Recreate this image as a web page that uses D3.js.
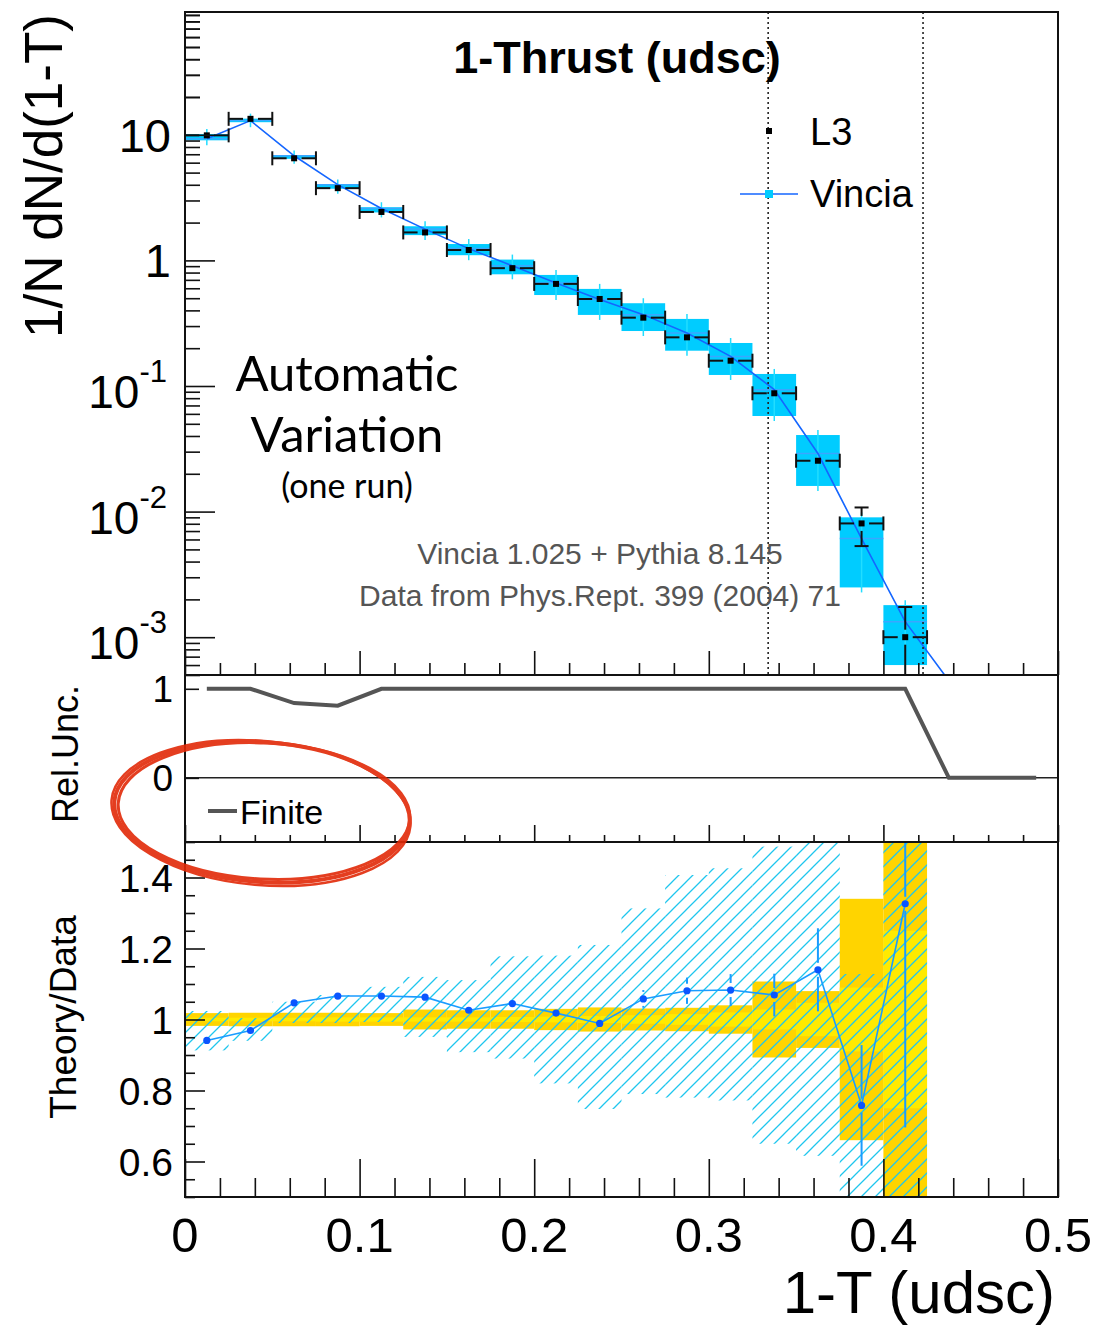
<!DOCTYPE html>
<html>
<head>
<meta charset="utf-8">
<script src="https://cdn.jsdelivr.net/npm/d3@7"></script>
<style>
  body { margin: 0; background: #fff; }
  text { font-family: "Liberation Sans", Arial, sans-serif; }
</style>
</head>
<body>
<script>
// bin edges in 1-T
var binEdges = [0, 0.025, 0.05, 0.075, 0.1, 0.125, 0.15, 0.175, 0.2, 0.225, 0.25,
                0.275, 0.3, 0.325, 0.35, 0.375, 0.4, 0.425, 0.45, 0.475, 0.5];

// L3 data (first 17 bins) and relative errors
var l3 = [9.9, 13.4, 6.5, 3.76, 2.43, 1.67, 1.21, 0.867, 0.65, 0.493, 0.35, 0.244,
          0.159, 0.0875, 0.0254, 0.00805, 0.0010];
var l3TotErr = [0.018, 0.019, 0.019, 0.019, 0.018, 0.028, 0.026, 0.026, 0.03, 0.034,
                0.031, 0.033, 0.04, 0.107, 0.08, 0.34, 0.74];
var l3StatErr = [0.005, 0.005, 0.005, 0.006, 0.006, 0.006, 0.006, 0.007, 0.008, 0.01,
                 0.012, 0.015, 0.02, 0.028, 0.047, 0.09, 0.25];

// Vincia central values (18 bins) and variation band (17 bins)
var vincia = [9.32, 12.98, 6.81, 4.01, 2.59, 1.775, 1.241, 0.906, 0.662, 0.488, 0.370,
              0.264, 0.172, 0.0935, 0.0290, 0.0061, 0.00133, 0.00045];
var vinciaLo = [9.04, 12.6, 6.44, 3.72, 2.41, 1.59, 1.10, 0.775, 0.53, 0.368, 0.274,
                0.191, 0.1224, 0.0577, 0.016, 0.00249, 0.0006];
var vinciaHi = [10.14, 13.45, 6.83, 4.02, 2.65, 1.87, 1.35, 1.015, 0.766, 0.593, 0.456,
                0.342, 0.220, 0.1247, 0.0407, 0.0090, 0.0018];

// Theory/Data ratio
var ratio = [0.941, 0.969, 1.047, 1.066, 1.066, 1.063, 1.026, 1.045, 1.018, 0.989, 1.058,
             1.081, 1.083, 1.069, 1.140, 0.758, 1.326];
var ratioErr = [0.005, 0.005, 0.007, 0.009, 0.01, 0.012, 0.014, 0.016, 0.018, 0.02, 0.025,
                0.037, 0.045, 0.06, 0.117, 0.17, 0.63];
var ratioLo = [0.913, 0.94, 0.99, 0.99, 0.993, 0.951, 0.908, 0.89, 0.82, 0.748, 0.79,
               0.78, 0.772, 0.65, 0.616, 0.4, 0.4];
var ratioHi = [1.024, 1.004, 1.05, 1.069, 1.092, 1.12, 1.111, 1.178, 1.18, 1.21, 1.313,
               1.407, 1.426, 1.487, 1.6, 1.128, 1.8];

// relative uncertainty (20 bins)
var relUnc = [1, 1, 0.84, 0.81, 1, 1, 1, 1, 1, 1, 1, 1, 1, 1, 1, 1, 1, 0, 0, 0];

var cutLines = [0.334, 0.4227];
var logLabels = [10, 1, 0.1, 0.01, 0.001];
var ratioLabels = [1.4, 1.2, 1, 0.8, 0.6];
var relLabels = [1, 0];
var xLabels = [0, 0.1, 0.2, 0.3, 0.4, 0.5];

var L = 185, R = 1058;
var svg = d3.select("body").append("svg")
    .attr("width", 1100).attr("height", 1326);

var x = d3.scaleLinear().domain([0, 0.5]).range([L, R]);
var yTop = d3.scaleLog().domain([5e-4, 95]).range([675, 12]);
var yMid = d3.scaleLinear().domain([-0.72, 1.155]).range([842, 675]);
var yBot = d3.scaleLinear().domain([0.5, 1.5]).range([1197, 842]);

var centers = binEdges.slice(0, -1).map(function(e, i) { return (e + binEdges[i + 1]) / 2; });
var nb = l3.length;

var defs = svg.append("defs");
defs.append("clipPath").attr("id", "clipTop").append("rect")
    .attr("x", L).attr("y", 12).attr("width", R - L).attr("height", 663);
defs.append("clipPath").attr("id", "clipBot").append("rect")
    .attr("x", L).attr("y", 842).attr("width", R - L).attr("height", 355);
var pat = defs.append("pattern").attr("id", "hatch")
    .attr("patternUnits", "userSpaceOnUse").attr("width", 14).attr("height", 14);
pat.append("path").attr("d", "M0,14 L14,0 M-2,2 L2,-2 M12,16 L16,12")
    .attr("stroke", "#1fc6ee").attr("stroke-width", 1.3);

// ---------------- top panel ----------------
var gTop = svg.append("g").attr("clip-path", "url(#clipTop)");

gTop.selectAll(".vbox").data(d3.range(nb)).enter().append("rect")
    .attr("x", function(i) { return x(binEdges[i]); })
    .attr("width", function(i) { return x(binEdges[i + 1]) - x(binEdges[i]); })
    .attr("y", function(i) { return yTop(vinciaHi[i]); })
    .attr("height", function(i) { return yTop(vinciaLo[i]) - yTop(vinciaHi[i]); })
    .attr("fill", "#00ccff");

gTop.selectAll(".vstat").data(d3.range(nb)).enter().append("line")
    .attr("x1", function(i) { return x(centers[i]); })
    .attr("x2", function(i) { return x(centers[i]); })
    .attr("y1", function(i) { return yTop(vinciaHi[i]) - 5; })
    .attr("y2", function(i) { return yTop(vinciaLo[i]) + 5; })
    .attr("stroke", "#22ddff").attr("stroke-width", 1.5);

gTop.selectAll(".vcen").data(d3.range(nb)).enter().append("line")
    .attr("x1", function(i) { return x(binEdges[i]); })
    .attr("x2", function(i) { return x(binEdges[i + 1]); })
    .attr("y1", function(i) { return yTop(vincia[i]); })
    .attr("y2", function(i) { return yTop(vincia[i]); })
    .attr("stroke", "#3aa6ff").attr("stroke-width", 1.5);

gTop.append("path")
    .datum(vincia)
    .attr("fill", "none").attr("stroke", "#1466ff").attr("stroke-width", 1.6)
    .attr("d", d3.line()
        .x(function(d, i) { return x(centers[i]); })
        .y(function(d) { return yTop(d); }));

// L3 error bars
var gap = 7.5;
var eb = gTop.append("g").attr("stroke", "#111").attr("stroke-width", 2);
l3.forEach(function(v, i) {
    var cx = x(centers[i]), cy = yTop(v);
    var x1 = x(binEdges[i]), x2 = x(binEdges[i + 1]);
    eb.append("line").attr("x1", x1).attr("x2", cx - gap).attr("y1", cy).attr("y2", cy);
    eb.append("line").attr("x1", cx + gap).attr("x2", x2).attr("y1", cy).attr("y2", cy);
    eb.append("line").attr("x1", x1).attr("x2", x1).attr("y1", cy - 7).attr("y2", cy + 7);
    eb.append("line").attr("x1", x2).attr("x2", x2).attr("y1", cy - 7).attr("y2", cy + 7);
    var yh = yTop(v * (1 + l3TotErr[i]));
    var lo = v * (1 - l3TotErr[i]);
    var yl = lo > 0 ? yTop(lo) : 700;
    if (cy - yh > gap) {
        eb.append("line").attr("x1", cx).attr("x2", cx).attr("y1", yh).attr("y2", cy - gap);
        eb.append("line").attr("x1", cx - 7).attr("x2", cx + 7).attr("y1", yh).attr("y2", yh);
    }
    if (yl - cy > gap) {
        eb.append("line").attr("x1", cx).attr("x2", cx).attr("y1", cy + gap).attr("y2", yl);
        eb.append("line").attr("x1", cx - 7).attr("x2", cx + 7).attr("y1", yl).attr("y2", yl);
    }
});
gTop.selectAll(".mk").data(l3).enter().append("rect")
    .attr("x", function(d, i) { return x(centers[i]) - 3; })
    .attr("y", function(d) { return yTop(d) - 3; })
    .attr("width", 6).attr("height", 6).attr("fill", "#000");

// dotted lines
svg.selectAll(".cut").data(cutLines).enter().append("line")
    .attr("x1", function(d) { return x(d); }).attr("x2", function(d) { return x(d); })
    .attr("y1", 12).attr("y2", 675)
    .attr("stroke", "#222").attr("stroke-width", 1.6).attr("stroke-dasharray", "2,3");

// axes ticks (inward)
function tickAxis(axis, tr, values, size) {
    var g = svg.append("g").attr("transform", tr)
        .call(axis.tickValues(values).tickSizeInner(-size).tickSizeOuter(0).tickFormat(""));
    g.select(".domain").remove();
    g.selectAll("line").attr("stroke", "#111").attr("stroke-width", 1.6);
    return g;
}
var decades = [1e-3, 1e-2, 1e-1, 1, 10];
var logMinor = yTop.ticks().filter(function(d) { return decades.indexOf(d) < 0; });
logMinor = logMinor.concat([20, 30, 40, 50, 60, 70, 80, 90]);
tickAxis(d3.axisLeft(yTop), "translate(" + L + ",0)", logMinor, 15);
tickAxis(d3.axisLeft(yTop), "translate(" + L + ",0)", decades, 30);

var xMinor = x.ticks(25).filter(function(d) { return Math.round(d * 100) % 10 !== 0; });
var xMajor = x.ticks(5);
tickAxis(d3.axisBottom(x), "translate(0,675)", xMinor, 12);
tickAxis(d3.axisBottom(x), "translate(0,675)", xMajor, 24);

logLabels.forEach(function(v) {
    var yy = yTop(v);
    if (v >= 1) {
        svg.append("text").attr("x", 171).attr("y", yy + 17)
            .attr("text-anchor", "end").attr("font-size", 47).text(v);
    } else {
        var e = Math.round(Math.log10(v));
        var t = svg.append("text").attr("x", 167).attr("y", yy + 22)
            .attr("text-anchor", "end").attr("font-size", 46);
        t.append("tspan").text("10");
        t.append("tspan").attr("font-size", 31).attr("dy", -26).text(e);
    }
});

svg.append("text").attr("transform", "translate(62,176) rotate(-90)")
    .attr("text-anchor", "middle").attr("font-size", 53).text("1/N dN/d(1-T)");

svg.append("text").attr("x", 617).attr("y", 73).attr("text-anchor", "middle")
    .attr("font-size", 45).attr("font-weight", "bold").text("1-Thrust (udsc)");

// legend
svg.append("rect").attr("x", 766).attr("y", 128).attr("width", 6).attr("height", 6).attr("fill", "#000");
svg.append("text").attr("x", 810).attr("y", 145).attr("font-size", 38).text("L3");
svg.append("line").attr("x1", 740).attr("x2", 798).attr("y1", 194).attr("y2", 194)
    .attr("stroke", "#1466ff").attr("stroke-width", 1.6);
svg.append("rect").attr("x", 765).attr("y", 190).attr("width", 8).attr("height", 8).attr("fill", "#00ccff");
svg.append("text").attr("x", 810).attr("y", 207).attr("font-size", 38).text("Vincia");

// annotations
var ann = svg.append("g").attr("text-anchor", "middle");
ann.append("text").attr("x", 347).attr("y", 391).attr("font-size", 49).style("font-family", "Lato").text("Automatic");
ann.append("text").attr("x", 347).attr("y", 452).attr("font-size", 49).style("font-family", "Lato").text("Variation");
ann.append("text").attr("x", 347).attr("y", 498).attr("font-size", 34).style("font-family", "Lato").text("(one run)");

svg.append("text").attr("x", 600).attr("y", 564).attr("text-anchor", "middle")
    .attr("font-size", 30).attr("fill", "#555").text("Vincia 1.025 + Pythia 8.145");
svg.append("text").attr("x", 600).attr("y", 606).attr("text-anchor", "middle")
    .attr("font-size", 30).attr("fill", "#555").text("Data from Phys.Rept. 399 (2004) 71");

// ---------------- middle panel ----------------
svg.append("line").attr("x1", L).attr("x2", R).attr("y1", yMid(0)).attr("y2", yMid(0))
    .attr("stroke", "#222").attr("stroke-width", 1.5);
svg.append("path").datum(relUnc)
    .attr("fill", "none").attr("stroke", "#555").attr("stroke-width", 4)
    .attr("d", d3.line()
        .x(function(d, i) { return x(centers[i]); })
        .y(function(d) { return yMid(d); }));
tickAxis(d3.axisLeft(yMid), "translate(" + L + ",0)", relLabels, 14);
tickAxis(d3.axisBottom(x), "translate(0,842)", xMinor, 7);
tickAxis(d3.axisBottom(x), "translate(0,842)", xMajor, 17);
relLabels.forEach(function(v) {
    svg.append("text").attr("x", 173).attr("y", yMid(v) + 13).attr("text-anchor", "end")
        .attr("font-size", 37).text(v);
});
svg.append("text").attr("transform", "translate(78,754) rotate(-90)")
    .attr("text-anchor", "middle").attr("font-size", 36).text("Rel.Unc.");
svg.append("line").attr("x1", 208).attr("x2", 237).attr("y1", 811).attr("y2", 811)
    .attr("stroke", "#555").attr("stroke-width", 4);
svg.append("text").attr("x", 240).attr("y", 824).attr("font-size", 34).text("Finite");

// ---------------- bottom panel ----------------
var gBot = svg.append("g").attr("clip-path", "url(#clipBot)");
function binRect(g, lo, hi, fill) {
    g.selectAll(null).data(d3.range(nb)).enter().append("rect")
        .attr("x", function(i) { return x(binEdges[i]); })
        .attr("width", function(i) { return x(binEdges[i + 1]) - x(binEdges[i]); })
        .attr("y", function(i) { return yBot(hi(i)); })
        .attr("height", function(i) { return yBot(lo(i)) - yBot(hi(i)); })
        .attr("fill", fill);
}
binRect(gBot, function(i) { return 1 - l3TotErr[i]; }, function(i) { return 1 + l3TotErr[i]; }, "#ffd400");
binRect(gBot, function(i) { return 1 - l3StatErr[i]; }, function(i) { return 1 + l3StatErr[i]; }, "#ffea00");
binRect(gBot, function(i) { return ratioLo[i]; }, function(i) { return ratioHi[i]; }, "url(#hatch)");

var rb = gBot.append("g").attr("stroke", "#1a9cff").attr("stroke-width", 2);
ratio.forEach(function(r, i) {
    var cx = x(centers[i]), cy = yBot(r);
    var yh = yBot(r + ratioErr[i]), yl = yBot(r - ratioErr[i]);
    if (cy - yh > 7) rb.append("line").attr("x1", cx).attr("x2", cx).attr("y1", yh).attr("y2", cy - 7);
    if (yl - cy > 7) rb.append("line").attr("x1", cx).attr("x2", cx).attr("y1", cy + 7).attr("y2", yl);
});
gBot.append("path").datum(ratio)
    .attr("fill", "none").attr("stroke", "#1a9cff").attr("stroke-width", 1.6)
    .attr("d", d3.line()
        .x(function(d, i) { return x(centers[i]); })
        .y(function(d) { return yBot(d); }));
gBot.selectAll(".rp").data(ratio).enter().append("circle")
    .attr("cx", function(d, i) { return x(centers[i]); })
    .attr("cy", function(d) { return yBot(d); })
    .attr("r", 3.6).attr("fill", "#0a55ff");

var botMinor = yBot.ticks(20).filter(function(d) { return ratioLabels.indexOf(Math.round(d * 100) / 100) < 0; });
tickAxis(d3.axisLeft(yBot), "translate(" + L + ",0)", botMinor, 10);
tickAxis(d3.axisLeft(yBot), "translate(" + L + ",0)", ratioLabels, 20);
tickAxis(d3.axisBottom(x), "translate(0,1197)", xMinor, 19);
tickAxis(d3.axisBottom(x), "translate(0,1197)", xMajor, 38);
ratioLabels.forEach(function(v) {
    svg.append("text").attr("x", 173).attr("y", yBot(v) + 14).attr("text-anchor", "end")
        .attr("font-size", 39).text(v);
});
svg.append("text").attr("transform", "translate(76,1017) rotate(-90)")
    .attr("text-anchor", "middle").attr("font-size", 37).text("Theory/Data");

xLabels.forEach(function(v) {
    svg.append("text").attr("x", x(v)).attr("y", 1252).attr("text-anchor", "middle")
        .attr("font-size", 49).text(v);
});
svg.append("text").attr("x", 1055).attr("y", 1313).attr("text-anchor", "end")
    .attr("font-size", 60).text("1-T (udsc)");

// frames
[[12, 675], [675, 842], [842, 1197]].forEach(function(p) {
    svg.append("rect").attr("x", L).attr("y", p[0]).attr("width", R - L).attr("height", p[1] - p[0])
        .attr("fill", "none").attr("stroke", "#111").attr("stroke-width", 2);
});

// red hand-drawn circle
var ring = svg.append("g").attr("fill", "none").attr("stroke", "#e22a08").attr("opacity", 0.9);
[[262, 812, 148, 70, 4, 4], [264, 811, 146, 68, 3, 3], [261, 813, 150, 72, 5, 2.5]].forEach(function(e) {
    ring.append("ellipse").attr("cx", e[0]).attr("cy", e[1]).attr("rx", e[2]).attr("ry", e[3])
        .attr("transform", "rotate(" + e[4] + "," + e[0] + "," + e[1] + ")")
        .attr("stroke-width", e[5]);
});
</script>
</body>
</html>
